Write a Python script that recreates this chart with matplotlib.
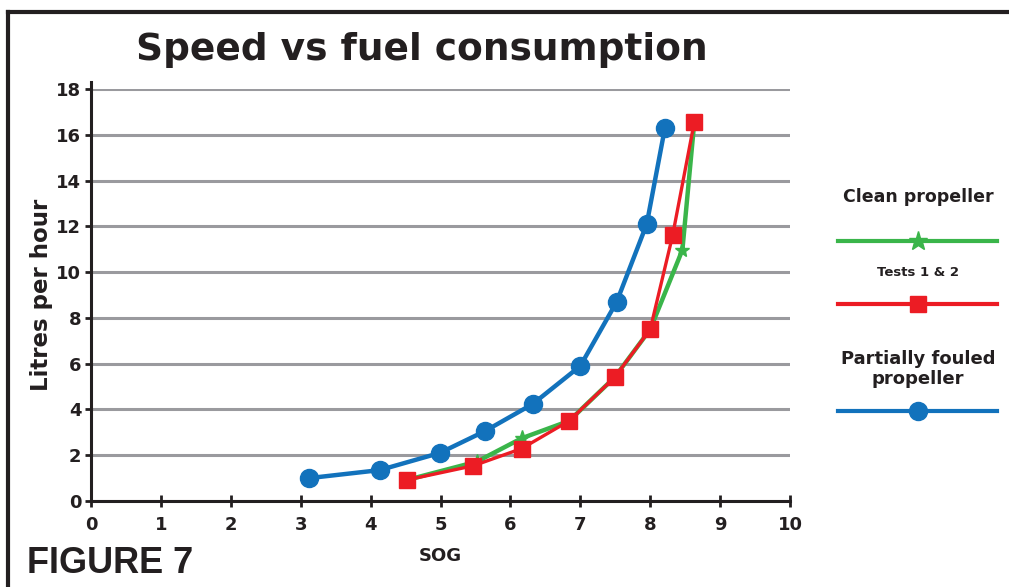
import matplotlib
matplotlib.use('Agg')
import matplotlib.pyplot as plt
from matplotlib.lines import Line2D

# Values
fouled_sog = [3.12, 4.13, 4.99, 5.64, 6.32, 7.0, 7.52, 7.95, 8.21]
fouled_lph = [1.0, 1.35, 2.1, 3.06, 4.24, 5.9, 8.7, 12.1, 16.3]

clean1_sog = [4.52, 5.52, 6.16, 6.84, 7.49, 8.0, 8.46, 8.63]
clean1_lph = [0.92, 1.72, 2.74, 3.5, 5.4, 7.5, 10.97, 16.55]

clean2_sog = [4.52, 5.47, 6.16, 6.84, 7.49, 8.0, 8.32, 8.63]
clean2_lph = [0.92, 1.54, 2.29, 3.5, 5.4, 7.5, 11.6, 16.55]

x_ticks = list(range(0, 11))
y_ticks = list(range(0, 19, 2))

BLUE = '#1272bc'
RED = '#ec1c24'
GREEN = '#3ab54a'
DARK = '#231f20'
GRID = '#9a9a9e'

plt.rcParams['font.family'] = ['DejaVu Sans']

fig = plt.figure(figsize=(10.09, 5.87), dpi=100)
ax = fig.add_axes([0.0902, 0.1465, 0.6928, 0.7019])

ax.plot(clean1_sog, clean1_lph, color=GREEN, lw=3.2, marker='*', ms=11,
        zorder=3)
ax.plot(clean2_sog, clean2_lph, color=RED, lw=2.4, marker='s', ms=12,
        zorder=4)
ax.plot(fouled_sog, fouled_lph, color=BLUE, lw=3.2, marker='o', ms=13,
        zorder=5)

ax.set_xlim(0, 10)
ax.set_ylim(0, 18)
ax.set_xticks(x_ticks)
ax.set_yticks(y_ticks)
ax.yaxis.grid(True, color=GRID, lw=2.2)
ax.set_axisbelow(True)
for s in ['top', 'right']:
    ax.spines[s].set_visible(False)
for s in ['left', 'bottom']:
    ax.spines[s].set_color(DARK)
    ax.spines[s].set_linewidth(2.2)
ax.spines['left'].set_bounds(0, 18.3)
ax.tick_params(axis='x', direction='inout', length=9, width=2, color=DARK,
               labelsize=13, labelcolor=DARK, pad=6)
ax.tick_params(axis='y', direction='out', length=4, width=2, color=DARK,
               labelsize=13, labelcolor=DARK, pad=3)
for lab in ax.get_xticklabels() + ax.get_yticklabels():
    lab.set_fontweight('bold')

ax.set_xlabel('SOG', fontsize=13, fontweight='bold', color=DARK, labelpad=10)
ax.set_ylabel('Litres per hour', fontsize=16.5, fontweight='bold', color=DARK,
              labelpad=2)

fig.text(0.418, 0.915, 'Speed vs fuel consumption', ha='center', va='center',
         fontsize=27, fontweight='bold', color=DARK)
# caption uses a narrower face than DejaVu
fig.text(0.027, 0.04, 'FIGURE 7', ha='left', va='center', fontsize=26,
         fontweight='bold', color=DARK,
         family=['Liberation Sans', 'DejaVu Sans'])

# frame lines at top and left
fig.add_artist(Line2D([0.008, 0.008], [0, 0.979], color=DARK, lw=3,
                      transform=fig.transFigure))
fig.add_artist(Line2D([0.008, 1.0], [0.979, 0.979], color=DARK, lw=3,
                      transform=fig.transFigure))

# legend drawn at the right
x0, x1, xm = 838 / 1009, 997 / 1009, 918 / 1009
fig.text(xm, 1 - 197 / 587, 'Clean propeller', ha='center', va='center',
         fontsize=12.5, fontweight='bold', color=DARK)
fig.add_artist(Line2D([x0, x1], [1 - 241 / 587] * 2, color=GREEN, lw=3,
                      transform=fig.transFigure))
fig.add_artist(Line2D([xm], [1 - 241 / 587], color=GREEN, marker='*', ms=14,
                      transform=fig.transFigure))
fig.text(xm, 1 - 272 / 587, 'Tests 1 & 2', ha='center', va='center',
         fontsize=9.5, fontweight='bold', color=DARK)
fig.add_artist(Line2D([x0, x1], [1 - 304 / 587] * 2, color=RED, lw=3,
                      transform=fig.transFigure))
fig.add_artist(Line2D([xm], [1 - 304 / 587], color=RED, marker='s', ms=12,
                      transform=fig.transFigure))
fig.text(xm, 1 - 369 / 587, 'Partially fouled\npropeller', ha='center',
         va='center', fontsize=13, fontweight='bold', color=DARK,
         linespacing=1.1)
fig.add_artist(Line2D([x0, x1], [1 - 411 / 587] * 2, color=BLUE, lw=3,
                      transform=fig.transFigure))
fig.add_artist(Line2D([xm], [1 - 411 / 587], color=BLUE, marker='o', ms=13,
                      transform=fig.transFigure))

fig.savefig('out.png', dpi=100)
plt.close(fig)
